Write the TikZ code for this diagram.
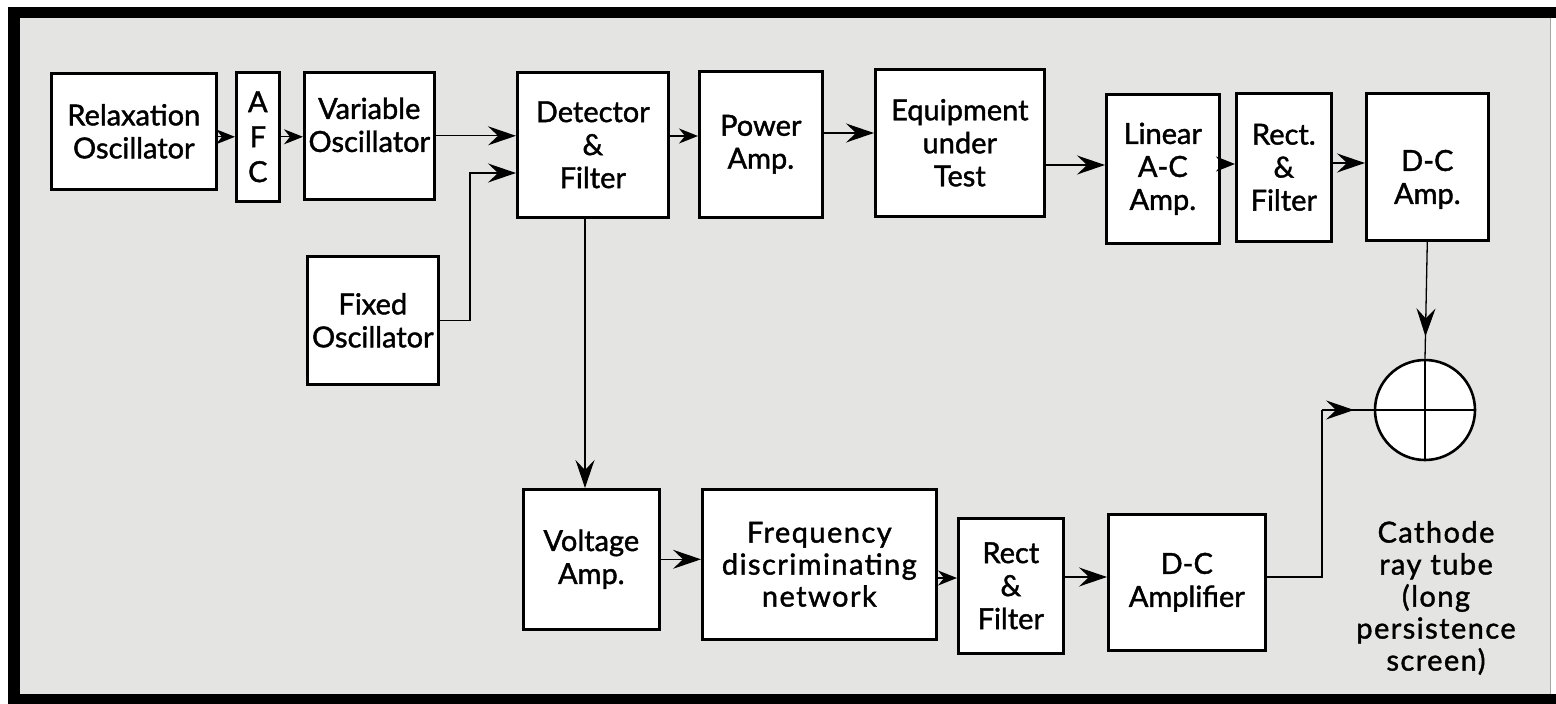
\documentclass[tikz,border=0pt]{standalone}
\usepackage{fontspec}
\setmainfont{Lato}[FakeBold=1.4]
\newfontfamily\widefont{Lato}[LetterSpace=5,FakeBold=1.4]
\usetikzlibrary{arrows.meta,positioning,decorations.markings}
\definecolor{paper}{HTML}{E4E4E2}

\begin{document}
\begin{tikzpicture}[x=1pt,y=-1pt,>={Stealth[length=28pt,width=19pt,inset=10pt,line width=1.6pt]},
blk/.style={draw,line width=2.6pt,fill=white,anchor=north west,inner sep=0pt,align=center,font=\fontsize{29}{33}\selectfont},
sig/.style={->,line width=1.3pt},
tiny/.style={-{Stealth[length=19pt,width=15pt,inset=6pt,line width=1.6pt]},line width=1.3pt},
midarr/.style={line width=1.3pt,decoration={markings,mark=at position #1 with {\arrow{>}}},postaction={decorate}}]
\useasboundingbox (0,0) rectangle (1556,704);
\fill[white] (0,0) rectangle (1556,704);
\fill[paper] (14,12) rectangle (1550,698);
\fill[black] (8,7) rectangle (1556,18);
\fill[black] (8,7) rectangle (20,704);
\fill[black] (8,694) rectangle (1556,704);
\draw[gray!70,line width=1pt] (1550,18) -- (1550,694);

\node[blk,minimum width=165pt,minimum height=116pt] (relax) at (50,72) {Relaxation\\Oscillator};
\node[blk,minimum width=43pt,minimum height=129pt,font=\fontsize{29}{35}\selectfont] (afc) at (235,71) {A\\F\\C};
\node[blk,minimum width=130pt,minimum height=127pt] (varosc) at (303,71) {\raisebox{7pt}[\height][\depth]{\begin{tabular}{@{}c@{}}Variable\\Oscillator\end{tabular}}};
\node[blk,minimum width=131pt,minimum height=128pt] (fixosc) at (306,255) {Fixed\\Oscillator};
\node[blk,minimum width=151pt,minimum height=145pt] (detect) at (516,71) {Detector\\\&\\Filter};
\node[blk,minimum width=123pt,minimum height=146pt] (poweramp) at (698,70) {Power\\Amp.};
\node[blk,minimum width=169pt,minimum height=147pt] (equip) at (874,68) {Equipment\\under\\Test};
\node[blk,minimum width=113pt,minimum height=149pt] (linamp) at (1105,93) {Linear\\A-C\\Amp.};
\node[blk,minimum width=95pt,minimum height=148pt] (rectf) at (1235,92) {Rect.\\\&\\Filter};
\node[blk,minimum width=122pt,minimum height=147pt] (dcamp) at (1365,92) {\raisebox{-14pt}[\height][\depth]{\begin{tabular}{@{}c@{}}D-C\\Amp.\end{tabular}}};
\node[blk,minimum width=136pt,minimum height=140pt] (voltamp) at (522,488) {Voltage\\Amp.};
\node[blk,minimum width=234pt,minimum height=150pt,font=\widefont\fontsize{29}{32}\selectfont] (freqnet) at (701,488) {Frequency\\discriminating\\network};
\node[blk,minimum width=105pt,minimum height=135pt] (rectb) at (957,517) {Rect\\\&\\Filter};
\node[blk,minimum width=157pt,minimum height=136pt] (dcampl) at (1107,513) {D-C\\Amplifier};
\node[draw,circle,line width=2.6pt,fill=white,minimum size=100pt,inner sep=0pt] (crt) at (1425,410) {};
\node[align=center,font=\widefont\fontsize{29}{32}\selectfont] (crtlabel) at (1436,598) {Cathode\\ray tube\\(long\\persistence\\screen)};
\coordinate (fixin) at (470,173);
\coordinate (crtin) at (1322,410);

\draw[line width=1.3pt] (crt.north) -- (crt.south);
\draw[line width=1.3pt] (crt.west) -- (crt.east);
\draw[tiny] (relax.east |- afc.west) -- (afc.west);
\draw[tiny] (afc.east) -- (afc.east -| varosc.west);
\draw[sig] (varosc.east) -- (varosc.east -| detect.west);
\draw[sig] (fixosc.east) -| (fixin) -- (fixin -| detect.west);
\draw[tiny] (detect.east |- 0,136) -- (poweramp.west |- 0,136);
\draw[sig] (poweramp.east |- 0,133) -- (equip.west |- 0,133);
\draw[sig] (equip.east |- 0,165) -- (linamp.west |- 0,165);
\draw[tiny] (linamp.east |- 0,164) -- (rectf.west |- 0,164);
\draw[sig] (rectf.east |- 0,163) -- (dcamp.west |- 0,163);
\draw[midarr=0.81] (dcamp.south) -- (crt.north);
\draw[sig] (detect.south -| 585,0) -- (voltamp.north -| 585,0);
\draw[sig] (voltamp.east) -- (voltamp.east -| freqnet.west);
\draw[tiny] (freqnet.east |- 0,578) -- (rectb.west |- 0,578);
\draw[sig] (rectb.east |- 0,577) -- (dcampl.west |- 0,577);
\draw[line width=1.3pt] (dcampl.east |- 0,577) -| (crtin);
\draw[midarr=0.62] (crtin) -- (crt.west);
\end{tikzpicture}
\end{document}
